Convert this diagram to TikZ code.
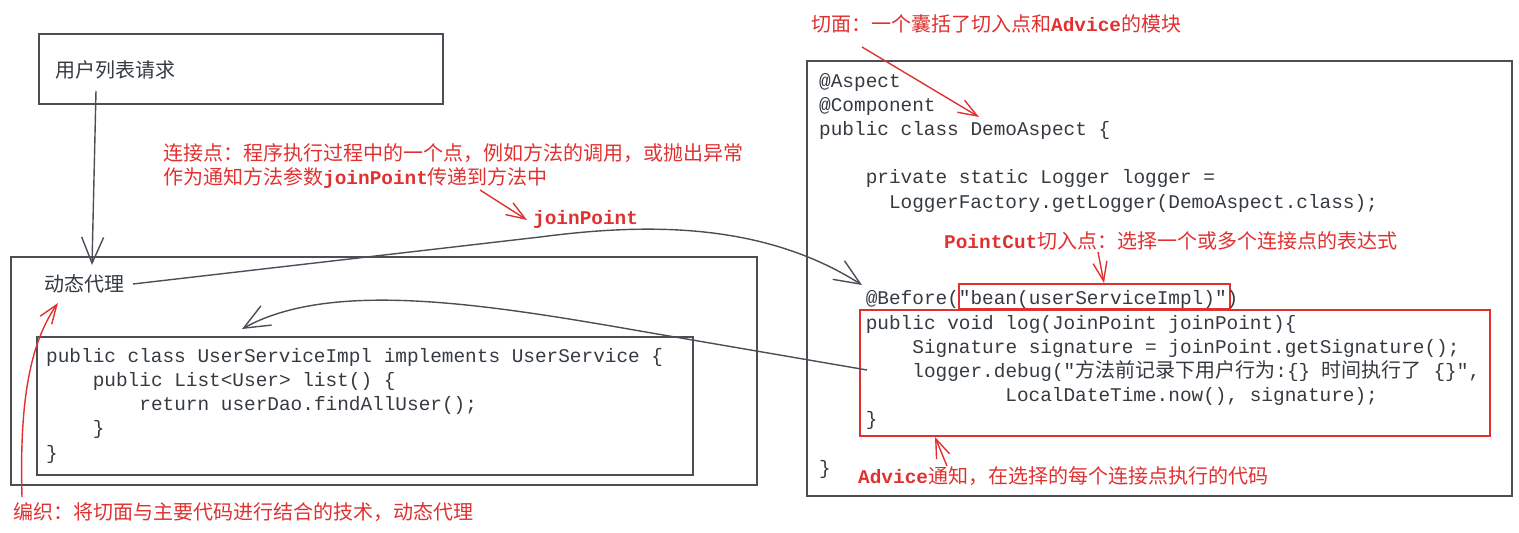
\documentclass[tikz,border=0pt]{standalone}
\usepackage{fontspec}
\setmainfont{Liberation Sans}
\setmonofont{Liberation Mono}
\newfontfamily\cjk{Noto Sans CJK SC}
\usetikzlibrary{arrows.meta}
\definecolor{inkc}{HTML}{4A4F55}
\definecolor{redc}{HTML}{E03131}
\definecolor{txtc}{HTML}{343A40}
\newcommand{\zhc}[1]{{\cjk\fontsize{20}{24}\selectfont #1}}
\newcommand{\mbf}[1]{{\fontsize{19.4}{24}\selectfont\ttfamily\bfseries #1}}
\begin{document}
\begin{tikzpicture}[x=1pt,y=-1pt,
  box/.style={draw=inkc,line width=1.9pt,inner sep=0pt,anchor=north west},
  rbox/.style={draw=redc,line width=1.6pt,inner sep=0pt,anchor=north west},
  code/.style={font=\fontsize{19.4}{24}\selectfont\ttfamily,text=txtc,anchor=base west,inner sep=0pt},
  lab/.style={font=\fontsize{20}{24}\selectfont\cjk,text=redc,anchor=base west,inner sep=0pt},
  glab/.style={font=\fontsize{20}{24}\selectfont\cjk,text=txtc,anchor=base west,inner sep=0pt},
  garrow/.style={draw=inkc,line width=1.4pt,-{Straight Barb[length=26pt,width=22pt,line width=1.4pt]}},
  rarrow/.style={draw=redc,line width=1.4pt,-{Straight Barb[length=19pt,width=14pt,line width=1.4pt]}}]
\useasboundingbox (0,0) rectangle (1519,533);

% boxes
\node[box,minimum width=404pt,minimum height=70pt] (req) at (38,33) {};
\node[box,minimum width=746pt,minimum height=228pt] (proxy) at (10,256) {};
\node[box,minimum width=656pt,minimum height=138pt] (impl) at (36,336) {};
\node[box,minimum width=705pt,minimum height=435pt] (aspect) at (806,60) {};
\node[rbox,minimum width=271pt,minimum height=25pt] (pcbox) at (958,283) {};
\node[rbox,minimum width=630pt,minimum height=126pt] (advbox) at (859,309) {};

% plain texts
\node[glab] (reqtxt) at (55,77) {用户列表请求};
\node[glab] (proxytxt) at (44,291) {动态代理};

% left code
\node[code] (l1) at (46,362) {public class UserServiceImpl implements UserService \{};
\node[code] (l2) at (92.6,386.25) {public List<User> list() \{};
\node[code] (l3) at (139.2,410.5) {return userDao.findAllUser();};
\node[code] (l4) at (92.6,434.75) {\}};
\node[code] (l5) at (46,459) {\}};

% right code
\node[code] (r0) at (819,87) {@Aspect};
\node[code] (r1) at (819,111.2) {@Component};
\node[code] (r2) at (819,135.4) {public class DemoAspect \{};
\node[code] (r4) at (865.6,183.8) {private static Logger logger =};
\node[code] (r5) at (888.8,208) {LoggerFactory.getLogger(DemoAspect.class);};
\node[code] (r9) at (865.6,304.8) {@Before("bean(userServiceImpl)")};
\node[code] (r10) at (865.6,329) {public void log(JoinPoint joinPoint)\{};
\node[code] (r11) at (912.2,353.2) {Signature signature = joinPoint.getSignature();};
\node[code] (r12) at (912.2,377.4) {logger.debug("\zhc{方法前记录下用户行为}:\{\} \zhc{时间执行了} \{\}",};
\node[code] (r13) at (1005.2,401.6) {LocalDateTime.now(), signature);};
\node[code] (r14) at (865.6,425.8) {\}};
\node[code] (r16) at (819,474.2) {\}};

% red labels
\node[lab] (cmlab) at (811,31) {切面：一个囊括了切入点和\mbf{Advice}的模块};
\node[lab] (jplab1) at (163,160) {连接点：程序执行过程中的一个点，例如方法的调用，或抛出异常};
\node[lab] (jplab2) at (163,184) {作为通知方法参数\mbf{joinPoint}传递到方法中};
\node[lab] (jplab3) at (533,224) {\mbf{joinPoint}};
\node[lab] (pclab) at (944,248) {\mbf{PointCut}切入点：选择一个或多个连接点的表达式};
\node[lab] (advlab) at (858,483) {\mbf{Advice}通知，在选择的每个连接点执行的代码};
\node[lab] (wvlab) at (13,519) {编织：将切面与主要代码进行结合的技术，动态代理};

% coordinates
\coordinate (reqOut) at (96,91);
\coordinate (proxyIn) at (92,265);
\coordinate (jpStart) at (133,284);
\coordinate (jpMid) at (540,237);
\coordinate (jpEnd) at (862,285);
\coordinate (advIn) at (867,370);
\coordinate (advMid) at (640,331);
\coordinate (implTop) at (242,329);
\coordinate (cmStart) at (862,47);
\coordinate (cmEnd) at (979,117);
\coordinate (jpLStart) at (480,190);
\coordinate (jpLEnd) at (527,220);
\coordinate (pcStart) at (1098,252);
\coordinate (pcEnd) at (1104,283);
\coordinate (advLStart) at (947,466);
\coordinate (advLEnd) at (935,437);
\coordinate (wvStart) at (22,497);
\coordinate (wvEnd) at (58,303);

% gray connectors
\draw[garrow] (reqOut) -- (proxyIn);
\draw[garrow] (jpStart) -- (jpMid) .. controls (640,224) and (760,220) .. (jpEnd);
\draw[garrow] (advIn) -- (advMid) .. controls (480,303) and (330,280) .. (implTop);

% red connectors
\draw[rarrow] (cmStart) -- (cmEnd);
\draw[rarrow] (jpLStart) -- (jpLEnd);
\draw[rarrow] (pcStart) -- (pcEnd);
\draw[rarrow] (advLStart) -- (advLEnd);
\draw[rarrow] (wvStart) .. controls (20,420) and (25,350) .. (wvEnd);
\end{tikzpicture}
\end{document}
